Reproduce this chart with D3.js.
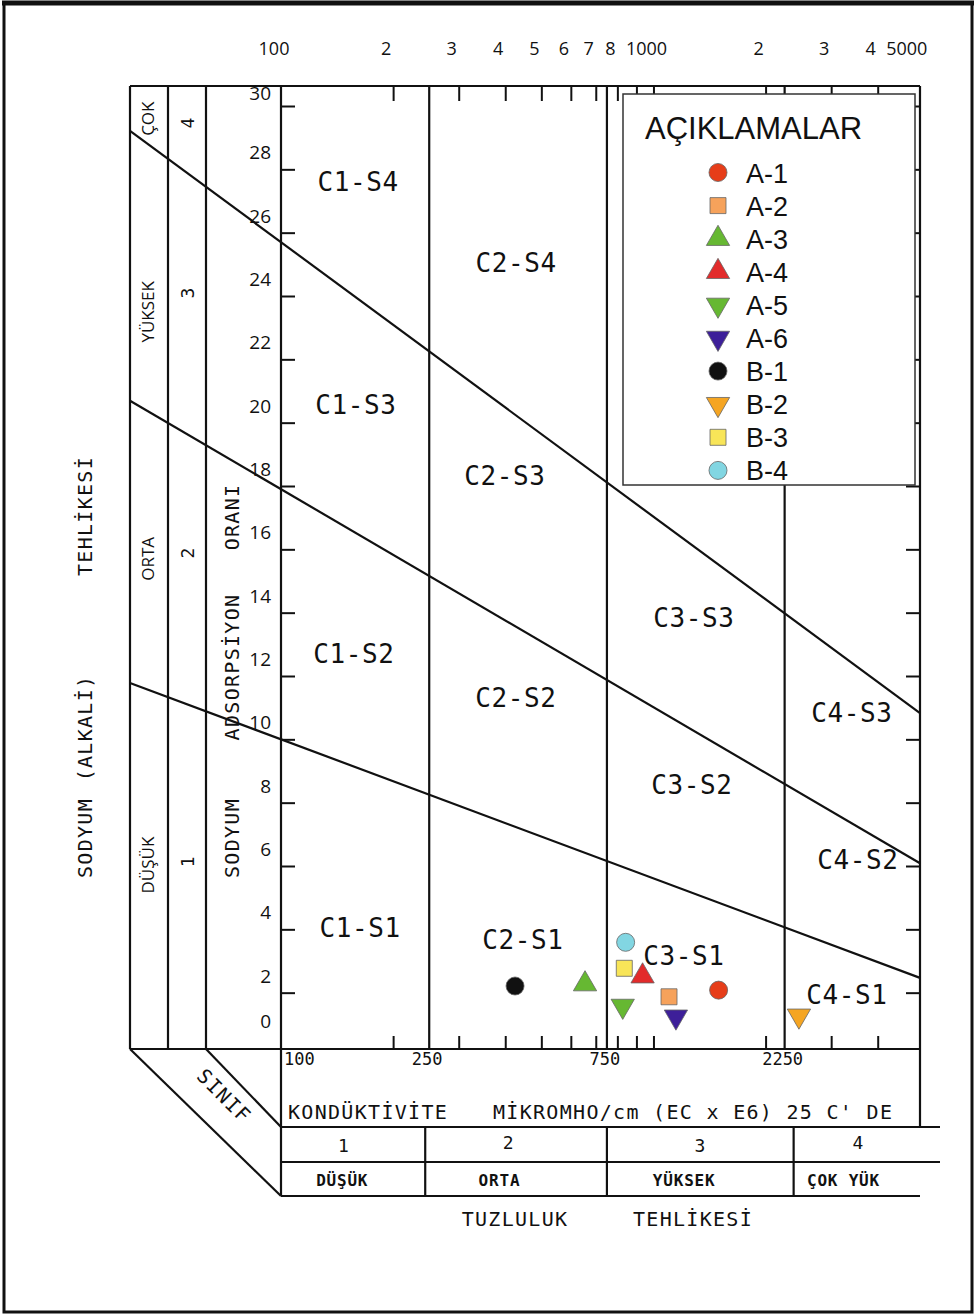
<!DOCTYPE html>
<html>
<head>
<meta charset="utf-8">
<script src="https://cdn.jsdelivr.net/npm/d3@7"></script>
<style>
  body { margin: 0; background: #fff; }
  svg { display: block; }
</style>
</head>
<body>
<div class="chart"></div>
<script>
// sample data (EC in micromho/cm, SAR)
const samples = ["A-1", "A-2", "A-3", "A-4", "A-5", "A-6", "B-1", "B-2", "B-3", "B-4"];
const ecValues = [1496, 1101, 655, 935, 827, 1149, 425, 2458, 835, 842];
const sarValues = [2.08, 1.87, 2.27, 2.52, 1.58, 1.24, 2.21, 1.27, 2.77, 3.59];
const symbolTypes = ["circle", "square", "up", "up", "down", "down", "circle", "down", "square", "circle"];
const colors = ["#e63d19", "#f6a25b", "#66b832", "#e22b2b", "#66b832", "#3d1f99", "#111111", "#f5a522", "#f8e558", "#82d6e2"];

// classification boundaries
const ecClassBounds = [250, 750, 2250];
const sarBoundsAt100 = [10, 17.9, 25.7];
const sarBoundsAt5000 = [2.54, 6.2, 10.97];

// zone labels (anchored in data space)
const zoneNames = ["C1-S4", "C2-S4", "C1-S3", "C2-S3", "C1-S2", "C2-S2", "C3-S3", "C3-S2", "C4-S3", "C4-S2", "C1-S1", "C2-S1", "C3-S1", "C4-S1"];
const zoneEC = [161, 428, 159, 399, 157, 427, 1284, 1269, 3412, 3540, 163, 446, 1207, 3307];
const zoneSAR = [27.6, 25.05, 20.57, 18.33, 12.71, 11.29, 13.82, 8.55, 10.82, 6.18, 4.04, 3.66, 3.15, 1.92];

// ticks
const ecTickValues = [200, 300, 400, 500, 600, 700, 800, 900, 1000, 2000, 3000, 4000];
const topLabelValues = [100, 200, 300, 400, 500, 600, 700, 800, 1000, 2000, 3000, 4000, 5000];
const topLabelTexts = ["100", "2", "3", "4", "5", "6", "7", "8", "1000", "2", "3", "4", "5000"];
const bottomLabelValues = [100, 250, 750, 2250];
const sarTickValues = [2, 4, 6, 8, 10, 12, 14, 16, 18, 20, 22, 24, 26, 28, 30];
const sarLabelValues = [0, 2, 4, 6, 8, 10, 12, 14, 16, 18, 20, 22, 24, 26, 28, 30];

// class tables
const sodiumClasses = ["DÜŞÜK", "ORTA", "YÜKSEK", "ÇOK"];
const sodiumClassSAR = [6.03, 15.7, 23.5, 29.6];
const sodiumClassNumSAR = [6.13, 15.88, 24.09, 29.46];
const salinityNums = ["1", "2", "3", "4"];
const salinityNames = ["DÜŞÜK", "ORTA", "YÜKSEK", "ÇOK YÜK"];
const salinityNumEC = [147, 407, 1333, 3540];
const salinityNameEC = [146, 386, 1209, 3237];

const width = 976, height = 1315;
const fr = {left: 281, right: 920, top: 86, bottom: 1049};
const colX = [130, 168, 206];
const mono = "'DejaVu Sans Mono', monospace";
const sans = "'Open Sans', sans-serif";
const arial = "'Liberation Sans', Arial, sans-serif";

const svg = d3.select(".chart").append("svg")
    .attr("width", width)
    .attr("height", height);

const x = d3.scaleLog().domain([100, 5000]).range([281, 913.8]);
const y = d3.scaleLinear().domain([0, 30]).range([1056, 106]);

// outer frame
svg.append("rect")
    .attr("x", 4).attr("y", 3).attr("width", 968).attr("height", 1309)
    .attr("fill", "none").attr("stroke", "#111").attr("stroke-width", 3);
svg.append("line").attr("x1", 2).attr("x2", 974).attr("y1", 3).attr("y2", 3)
    .attr("stroke", "#111").attr("stroke-width", 5);

// axes (ticks only)
const tickStyle = g => {
    g.select(".domain").remove();
    g.selectAll("line").attr("stroke", "#111").attr("stroke-width", 2);
    g.selectAll("text").remove();
};
svg.append("g").attr("transform", `translate(0,${fr.top})`)
    .call(d3.axisTop(x).tickValues(ecTickValues).tickSize(-15).tickFormat(""))
    .call(tickStyle);
svg.append("g").attr("transform", `translate(0,${fr.bottom})`)
    .call(d3.axisBottom(x).tickValues(ecTickValues).tickSize(-13).tickFormat(""))
    .call(tickStyle);
svg.append("g").attr("transform", `translate(${fr.left},0)`)
    .call(d3.axisLeft(y).tickValues(sarTickValues).tickSize(-14).tickFormat(""))
    .call(tickStyle);
svg.append("g").attr("transform", `translate(${fr.right},0)`)
    .call(d3.axisRight(y).tickValues(sarTickValues).tickSize(-14).tickFormat(""))
    .call(tickStyle);

// frame lines
const lines = svg.append("g").attr("stroke", "#111").attr("stroke-width", 2.2);
const seg = (x1, y1, x2, y2) => lines.append("line")
    .attr("x1", x1).attr("y1", y1).attr("x2", x2).attr("y2", y2);

seg(colX[0], fr.top, fr.right, fr.top);
seg(colX[0], fr.bottom, fr.right, fr.bottom);
colX.forEach(c => seg(c, fr.top, c, fr.bottom));
seg(fr.left, fr.top, fr.left, 1196);
seg(fr.right, fr.top, fr.right, 1127);
ecClassBounds.forEach(v => seg(x(v), fr.top, x(v), fr.bottom));

// lower table
seg(colX[0], fr.bottom, fr.left, 1196);
seg(colX[2], fr.bottom, fr.left, 1127);
seg(fr.left, 1127, 940, 1127);
seg(fr.left, 1162, 940, 1162);
seg(fr.left, 1196, fr.right, 1196);
ecClassBounds.forEach((v, i) => seg(x(v) + [-4, 0, 9][i], 1127, x(v) + [-4, 0, 9][i], 1196));

// SAR class boundary lines, extended to the left columns and right frame
sarBoundsAt100.forEach((s, i) => {
    const x1 = x(100), y1 = y(s), x2 = x(5000), y2 = y(sarBoundsAt5000[i]);
    const m = (y2 - y1) / (x2 - x1);
    seg(colX[0], y1 + m * (colX[0] - x1), fr.right, y1 + m * (fr.right - x1));
});

// top labels
svg.append("g").selectAll("text")
    .data(topLabelValues)
    .join("text")
    .attr("x", d => x(d) - 7)
    .attr("y", 48)
    .attr("text-anchor", "middle")
    .attr("dominant-baseline", "central")
    .attr("font-family", sans)
    .attr("font-size", 18)
    .attr("fill", "#111")
    .text((d, i) => topLabelTexts[i]);

// SAR labels
svg.append("g").selectAll("text")
    .data(sarLabelValues)
    .join("text")
    .attr("x", 271)
    .attr("y", d => Math.min(Math.max(y(d) - 17, 93), 1021))
    .attr("text-anchor", "end")
    .attr("dominant-baseline", "central")
    .attr("font-family", sans)
    .attr("font-size", 19)
    .attr("fill", "#111")
    .text(d => d);

// bottom EC labels
svg.append("g").selectAll("text")
    .data(bottomLabelValues)
    .join("text")
    .attr("x", d => d === 100 ? 284 : x(d) - 2)
    .attr("y", 1065)
    .attr("text-anchor", d => d === 100 ? "start" : "middle")
    .attr("font-family", mono)
    .attr("font-size", 17)
    .attr("fill", "#111")
    .text(d => d);

const monoText = (txt, tx, ty, size, ls, anchor, rot) => svg.append("text")
    .attr("transform", `translate(${tx},${ty})` + (rot ? ` rotate(${rot})` : ""))
    .attr("text-anchor", anchor || "middle")
    .attr("dominant-baseline", rot ? "central" : "auto")
    .attr("font-family", mono)
    .attr("font-size", size)
    .attr("letter-spacing", ls)
    .attr("fill", "#111")
    .text(txt);

monoText("KONDÜKTİVİTE", 288, 1119, 20, 1.3, "start");
monoText("MİKROMHO/cm (EC x E6) 25 C' DE", 493, 1119, 20, 1.3, "start");
monoText("TUZLULUK", 515, 1226, 20, 1.3);
monoText("TEHLİKESİ", 693, 1226, 20, 1.3);

// salinity class table rows
svg.append("g").selectAll("text")
    .data(salinityNums)
    .join("text")
    .attr("x", (d, i) => x(salinityNumEC[i]))
    .attr("y", (d, i) => i % 2 ? 1149 : 1152)
    .attr("text-anchor", "middle")
    .attr("font-family", mono)
    .attr("font-size", 18)
    .attr("fill", "#111")
    .text(d => d);
svg.append("g").selectAll("text")
    .data(salinityNames)
    .join("text")
    .attr("x", (d, i) => x(salinityNameEC[i]))
    .attr("y", 1186)
    .attr("text-anchor", "middle")
    .attr("font-family", mono)
    .attr("font-size", 16)
    .attr("font-weight", "bold")
    .attr("letter-spacing", 0.8)
    .attr("fill", "#111")
    .text(d => d);

// SINIF diagonal
monoText("SINIF", 224, 1096, 20, 1.3, "middle", 45);

// vertical titles
monoText("ORANI", 232, 517, 20, 1.3, "middle", -90);
monoText("ADSORPSİYON", 232, 667, 20, 1.3, "middle", -90);
monoText("SODYUM", 232, 838, 20, 1.3, "middle", -90);
monoText("TEHLİKESİ", 85, 516, 20, 1.3, "middle", -90);
monoText("(ALKALİ)", 85, 728, 20, 1.3, "middle", -90);
monoText("SODYUM", 85, 838, 20, 1.3, "middle", -90);

// sodium hazard class columns
svg.append("g").selectAll("text")
    .data(sodiumClasses)
    .join("text")
    .attr("transform", (d, i) => `translate(147,${y(sodiumClassSAR[i])}) rotate(-90)`)
    .attr("text-anchor", "middle")
    .attr("dominant-baseline", "central")
    .attr("font-family", sans)
    .attr("font-size", 17)
    .attr("fill", "#111")
    .text(d => d);
svg.append("g").selectAll("text")
    .data(salinityNums)
    .join("text")
    .attr("transform", (d, i) => `translate(187,${y(sodiumClassNumSAR[i])}) rotate(-90)`)
    .attr("text-anchor", "middle")
    .attr("dominant-baseline", "central")
    .attr("font-family", mono)
    .attr("font-size", 18)
    .attr("fill", "#111")
    .text(d => d);

// zone labels
svg.append("g").selectAll("text")
    .data(zoneNames)
    .join("text")
    .attr("x", (d, i) => x(zoneEC[i]))
    .attr("y", (d, i) => y(zoneSAR[i]))
    .attr("text-anchor", "middle")
    .attr("dominant-baseline", "central")
    .attr("font-family", mono)
    .attr("font-size", 26)
    .attr("letter-spacing", 0.6)
    .attr("fill", "#111")
    .text(d => d);

// symbols
const symbolPath = t => {
    if (t === "circle") return d3.symbol(d3.symbolCircle, 255)();
    if (t === "square") return d3.symbol(d3.symbolSquare, 256)();
    return d3.symbol(d3.symbolTriangle, 235)();
};
const symbolTransform = (t, px, py) =>
    `translate(${px},${py})` + (t === "down" ? " rotate(180)" : "");

svg.append("g").selectAll("path")
    .data(samples)
    .join("path")
    .attr("d", (d, i) => symbolPath(symbolTypes[i]))
    .attr("transform", (d, i) => symbolTransform(symbolTypes[i], x(ecValues[i]), y(sarValues[i])))
    .attr("fill", (d, i) => colors[i])
    .attr("stroke", "#666")
    .attr("stroke-width", 0.8);

// legend
const legend = svg.append("g");
legend.append("rect")
    .attr("x", 623).attr("y", 94).attr("width", 292).attr("height", 391)
    .attr("fill", "#fff").attr("stroke", "#333").attr("stroke-width", 1.5);
legend.append("text")
    .attr("x", 645).attr("y", 139)
    .attr("font-family", arial)
    .attr("font-size", 31)
    .attr("fill", "#111")
    .text("AÇIKLAMALAR");

const items = legend.selectAll("g.item")
    .data(samples)
    .join("g")
    .attr("class", "item")
    .attr("transform", (d, i) => `translate(0,${172.5 + i * 33.1})`);
items.append("path")
    .attr("d", (d, i) => symbolPath(symbolTypes[i]))
    .attr("transform", (d, i) => symbolTransform(symbolTypes[i], 718, 0))
    .attr("fill", (d, i) => colors[i])
    .attr("stroke", "#666")
    .attr("stroke-width", 0.8);
items.append("text")
    .attr("x", 746)
    .attr("y", 10)
    .attr("font-family", arial)
    .attr("font-size", 27)
    .attr("fill", "#111")
    .text(d => d);
</script>
</body>
</html>
